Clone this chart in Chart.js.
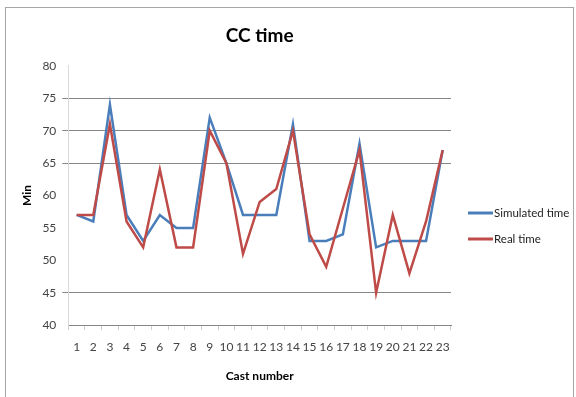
<!DOCTYPE html>
<html>
<head>
<meta charset="utf-8">
<title>CC time</title>
<script src="https://cdn.jsdelivr.net/npm/chart.js@4.4.0/dist/chart.umd.min.js"></script>
<style>
  html, body { margin: 0; padding: 0; background: #fff; }
  #wrap { position: relative; width: 576px; height: 397px; }
  #frame { position: absolute; left: 5px; top: 7px; width: 569px; height: 392px; border: 1px solid #a6a6a6; box-sizing: border-box; pointer-events: none; }
</style>
</head>
<body>
<div id="wrap">
  <canvas id="chart" width="576" height="397"></canvas>
  <div id="frame"></div>
</div>
<script>
// Data
const castNumbers = ['1','2','3','4','5','6','7','8','9','10','11','12','13','14','15','16','17','18','19','20','21','22','23'];
const simulatedTime = [57, 56, 74, 57, 53, 57, 55, 55, 72, 65, 57, 57, 57, 71, 53, 53, 54, 68, 52, 53, 53, 53, 67];
const realTime = [57, 57, 71, 56, 52, 64, 52, 52, 70, 65, 51, 59, 61, 70, 54, 49, 58, 67, 45, 57, 48, 56, 67];
const yTicks = [40, 45, 50, 55, 60, 65, 70, 75, 80];
const shownGrid = [45, 65, 70, 75]; // only these gridlines show in the picture

const font = "Lato, 'Noto Sans', sans-serif";

// legend on the right, drawn by hand so it sits where the original one does
const sideLegend = {
  id: 'sideLegend',
  afterDraw(chart) {
    const c = chart.ctx;
    const x0 = chart.chartArea.right + 17;
    let y = 213;
    c.save();
    c.font = '11.5px ' + font;
    c.textBaseline = 'middle';
    c.textAlign = 'left';
    chart.data.datasets.forEach(ds => {
      c.strokeStyle = ds.borderColor;
      c.lineWidth = 3;
      c.beginPath();
      c.moveTo(x0, y);
      c.lineTo(x0 + 25, y);
      c.stroke();
      c.fillStyle = '#222';
      c.fillText(ds.label, x0 + 26, y);
      y += 26;
    });
    c.restore();
  }
};

const ctx = document.getElementById('chart').getContext('2d');
new Chart(ctx, {
  type: 'line',
  data: {
    labels: castNumbers,
    datasets: [{
      label: 'Simulated time',
      data: simulatedTime,
      borderColor: '#4a7ebb',
      backgroundColor: '#4a7ebb',
      borderWidth: 2.5,
      pointRadius: 0,
      tension: 0,
      order: 1
    }, {
      label: 'Real time',
      data: realTime,
      borderColor: '#be4b48',
      backgroundColor: '#be4b48',
      borderWidth: 2.5,
      pointRadius: 0,
      tension: 0,
      order: 0
    }]
  },
  options: {
    responsive: false,
    animation: false,
    layout: { padding: { left: 18, right: 125, top: 14, bottom: 10 } },
    plugins: {
      title: {
        display: true,
        fullSize: false,
        text: 'CC time',
        color: '#000',
        font: { family: font, size: 19, weight: 'bold' },
        padding: { top: 10, bottom: 19 }
      },
      legend: { display: false },
      tooltip: { enabled: false }
    },
    scales: {
      x: {
        offset: true,
        title: {
          display: true,
          text: 'Cast number',
          color: '#000',
          font: { family: font, size: 12, weight: 'bold' },
          padding: { top: 4 }
        },
        grid: {
          offset: true,
          drawOnChartArea: false,
          color: '#d0d0d0',
          tickLength: 5
        },
        border: { color: '#868686' },
        ticks: {
          color: '#444',
          font: { family: font, size: 12 },
          maxRotation: 0,
          autoSkip: false,
          padding: 10
        }
      },
      y: {
        min: 40,
        max: 80,
        afterBuildTicks: axis => { axis.ticks = yTicks.map(v => ({ value: v })); },
        title: {
          display: true,
          text: 'Min',
          color: '#000',
          font: { family: font, size: 12, weight: 'bold' },
          padding: { top: 2, bottom: 2 }
        },
        grid: {
          color: c => shownGrid.includes(c.tick.value) ? '#868686' : 'rgba(0,0,0,0)',
          tickLength: 6
        },
        border: { color: '#d9d9d9' },
        ticks: {
          color: '#444',
          font: { family: font, size: 12 },
          padding: 6
        }
      }
    }
  },
  plugins: [sideLegend]
});
</script>
</body>
</html>
